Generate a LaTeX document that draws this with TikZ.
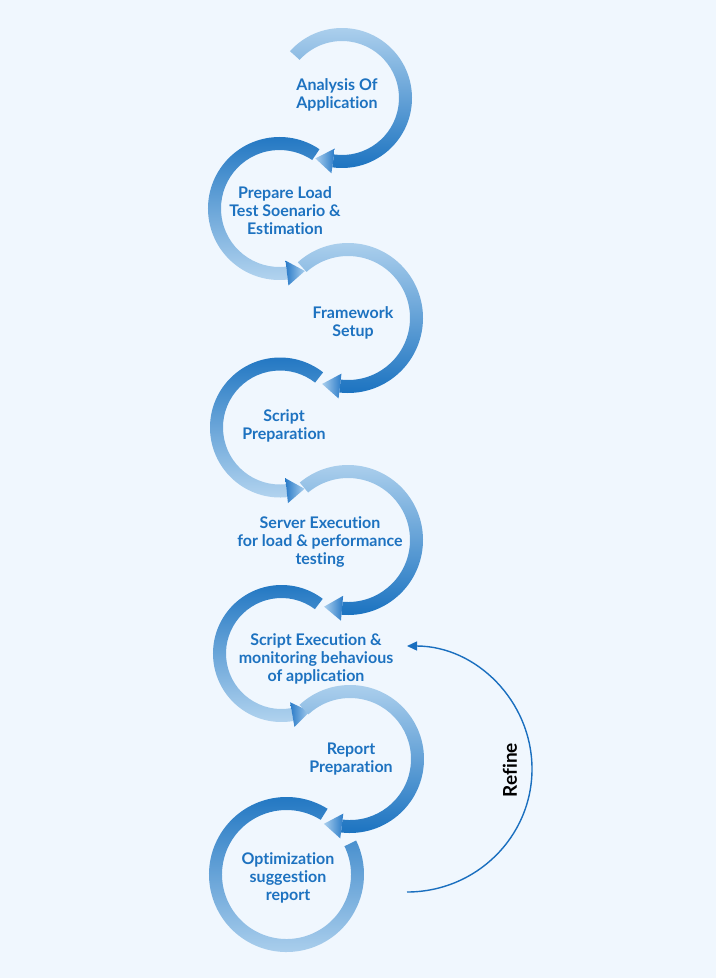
\documentclass[tikz,border=0pt]{standalone}
\usepackage{fontspec}
\setmainfont{Lato}[Ligatures={NoCommon}]
\usetikzlibrary{arrows.meta}
\definecolor{bgc}{HTML}{F0F7FE}
\definecolor{darkband}{HTML}{1A72C0}
\definecolor{lightband}{HTML}{B3D4EF}
\definecolor{arrdark}{HTML}{2A7BC8}
\definecolor{arrlight}{HTML}{AACFEE}
\definecolor{txtblue}{HTML}{1D72C0}
\definecolor{refblue}{HTML}{1A6FBF}
\newcommand{\myRing}[7]{% cx, cy, r, start, end, top colour, bottom colour
  \begin{scope}[shift={(#1,-#2)}]
    \pgfmathsetmacro\myRo{#3+6.5}\pgfmathsetmacro\myRi{#3-6.5}
    \shade[top color=#6, bottom color=#7] (#4:\myRo) arc[start angle=#4, end angle=#5, radius=\myRo]
      -- (#5:\myRi) arc[start angle=#5, end angle=#4, radius=\myRi] -- cycle;
  \end{scope}}
% arrowhead: cx, cy, r, end angle, tip offset (+ ccw, - cw), left colour, right colour
\newcommand{\myHead}[7]{%
  \begin{scope}[shift={(#1,-#2)}, rotate=#4]
    \coordinate (ha) at (#3-12.5,0);
    \coordinate (hb) at (#3+12.5,0);
    \coordinate (hc) at (#3,#5);
  \end{scope}
  \shade[left color=#6, right color=#7] (ha) -- (hb) -- (hc) -- cycle;}
\begin{document}
\begin{tikzpicture}[x=1pt,y=1pt,
  lbl/.style={text=txtblue, align=center, font=\bfseries\fontsize{16}{18}\selectfont, inner sep=0pt},
  refline/.style={draw=refblue, line width=1.4pt}]
\fill[bgc] (0,0) rectangle (716,-978);
\useasboundingbox (0,0) rectangle (716,-978);
% rings
\myRing{342}{98}{63.5}{138}{-98}{lightband}{darkband}
\myHead{342}{98}{63.5}{-98}{-18}{arrlight}{arrdark}
\myRing{279.5}{208.5}{65}{56}{276.6}{darkband}{lightband}
\myHead{279.5}{208.5}{65}{276.6}{18}{arrdark}{arrlight}
\myRing{348}{318}{68.5}{132}{-96.7}{lightband}{darkband}
\myHead{348}{318}{68.5}{-96.7}{-18}{arrlight}{arrdark}
\myRing{280}{427.5}{63.5}{52}{276}{darkband}{lightband}
\myHead{280}{427.5}{63.5}{276}{18}{arrdark}{arrlight}
\myRing{348}{540}{68.5}{130}{-95}{lightband}{darkband}
\myHead{348}{540}{68.5}{-95}{-18}{arrlight}{arrdark}
\myRing{281.5}{653.5}{62}{53}{280}{darkband}{lightband}
\myHead{281.5}{653.5}{62}{280}{18}{arrdark}{arrlight}
\myRing{350}{759}{67.5}{133}{-97}{lightband}{darkband}
\myHead{350}{759}{67.5}{-97}{-18}{arrlight}{arrdark}
\myRing{286.5}{874.5}{71}{58}{386}{darkband}{lightband}
% labels
\node[lbl] (s1) at (337,-95) {Analysis Of\\Application};
\node[lbl] (s2) at (285,-211) {Prepare Load\\Test Soenario \&\\Estimation};
\node[lbl] (s3) at (353,-323) {Framework\\Setup};
\node[lbl] (s4) at (284,-426) {Script\\Preparation};
\node[lbl] (s5) at (320,-542) {Server Execution\\for load \& performance\\testing};
\node[lbl] (s6) at (316,-659) {Script Execution \&\\monitoring behavious\\of application};
\node[lbl] (s7) at (351,-759) {Report\\Preparation};
\node[lbl] (s8) at (288,-878) {Optimization\\suggestion\\report};
% refine loop
\coordinate (rfA) at (407,-892);
\coordinate (rfB) at (407,-646);
\draw[refline, -{Triangle[length=10pt,width=9pt]}] (rfA) arc[start angle=-90, end angle=90, x radius=125, y radius=123];
\node[rotate=90, font=\bfseries\fontsize{19}{22}\selectfont, text=black] (refine) at (510,-770) {Refine};
\end{tikzpicture}
\end{document}
